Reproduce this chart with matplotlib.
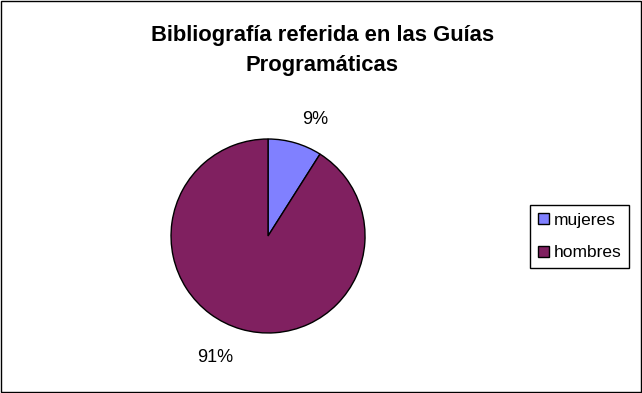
import matplotlib.pyplot as plt
from matplotlib.patches import Rectangle

# datos del gráfico
categorias = ['mujeres', 'hombres']
valores = [9, 91]
colores = ['#8080FF', '#802060']

plt.rcParams['font.family'] = ['Liberation Sans', 'DejaVu Sans']

fig = plt.figure(figsize=(6.42, 3.93), dpi=100)

# borde exterior del gráfico
fig.patches.append(Rectangle((0.001, 0.002), 0.997, 0.996, transform=fig.transFigure,
                             fill=False, edgecolor='black', linewidth=1))

fig.text(0.502, 0.872, 'Bibliografía referida en las Guías\nProgramáticas',
         ha='center', va='center', fontsize=15.8, fontweight='bold', linespacing=1.55)

ax = fig.add_axes([0.2664, 0.1527, 0.3022, 0.4936])
wedges, textos, pcts = ax.pie(valores, colors=colores, startangle=90, counterclock=False,
                              autopct='%1.0f%%', pctdistance=1.3,
                              wedgeprops=dict(edgecolor='black', linewidth=1),
                              textprops=dict(fontsize=13))
ax.set_xlim(-1, 1)
ax.set_ylim(-1, 1)
ax.set_aspect('auto')

# ajuste de posición de las etiquetas (como en Excel)
x, y = pcts[0].get_position()
pcts[0].set_position((x + 0.12, y - 0.05))
x, y = pcts[1].get_position()
pcts[1].set_position((x - 0.18, y))

leg = fig.legend(wedges, categorias, loc='upper left', bbox_to_anchor=(0.826, 0.478),
                 bbox_transform=fig.transFigure, borderaxespad=0, fontsize=12.5,
                 handlelength=0.6, handleheight=0.6, fancybox=False, framealpha=1,
                 edgecolor='black', borderpad=0.45, labelspacing=1.0, handletextpad=0.3)
leg.get_frame().set_linewidth(1)

fig.savefig('out.png', dpi=100)
